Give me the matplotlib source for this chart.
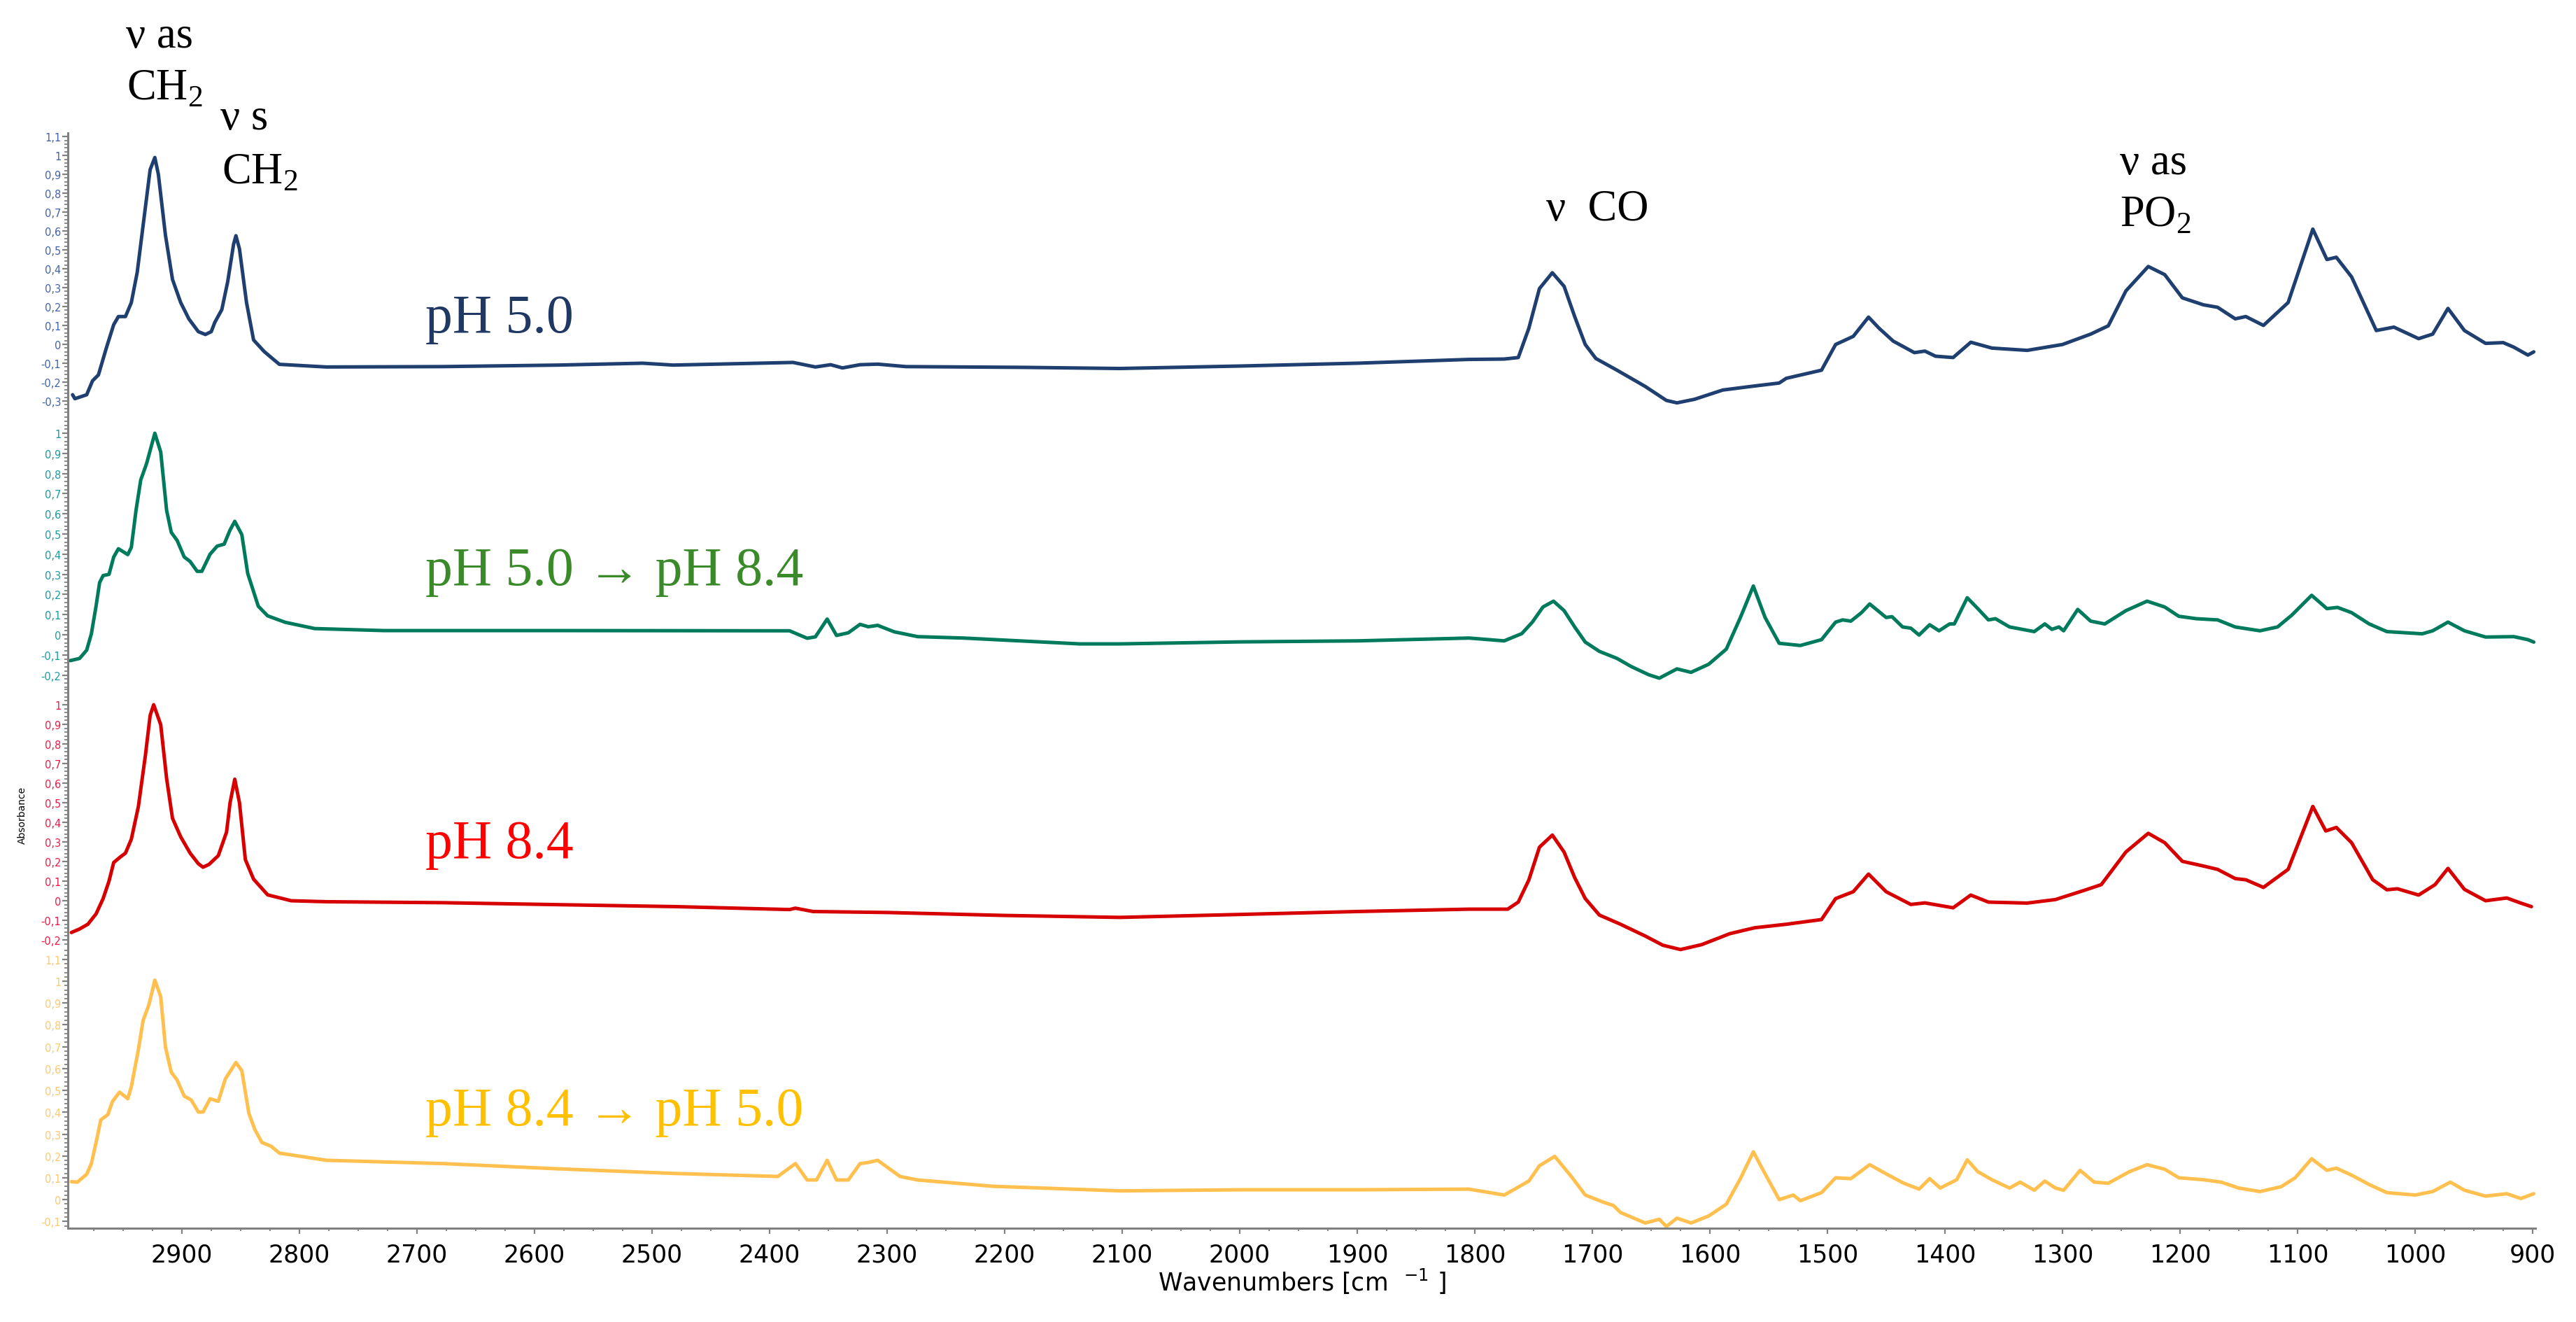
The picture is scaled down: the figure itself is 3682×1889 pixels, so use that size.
import matplotlib
matplotlib.use("Agg")
import matplotlib.pyplot as plt
from matplotlib.ticker import MultipleLocator, FuncFormatter

W_PX, H_PX = 3682, 1890
DPI = 100

# ---- spectra (wavenumber, absorbance) ----
wn_ph50 = [2993, 2991, 2981, 2976, 2971, 2964, 2958, 2954, 2948, 2943, 2938, 2932, 2927,
           2923, 2920, 2914, 2908, 2901, 2894, 2886, 2880, 2875, 2872, 2866, 2861, 2856,
           2854, 2851, 2845, 2839, 2830, 2823, 2817, 2777, 2678, 2580, 2508, 2482, 2380,
           2361, 2348, 2338, 2323, 2308, 2284, 2185, 2102, 2000, 1900, 1805, 1775, 1763,
           1754, 1745, 1734, 1724, 1715, 1706, 1697, 1679, 1655, 1637, 1628, 1613, 1589,
           1565, 1541, 1535, 1505, 1493, 1478, 1465, 1456, 1444, 1426, 1417, 1408, 1393,
           1378, 1360, 1330, 1300, 1276, 1261, 1246, 1227, 1213, 1198, 1180, 1168, 1153,
           1144, 1129, 1108, 1087, 1075, 1067, 1054, 1033, 1018, 997, 985, 972, 958, 940,
           925, 916, 904, 899]
abs_ph50 = [-0.267, -0.288, -0.267, -0.193, -0.162, -0.014, 0.104, 0.147, 0.147, 0.221, 0.381,
            0.678, 0.925, 0.989, 0.9, 0.579, 0.344, 0.221, 0.134, 0.067, 0.052, 0.067, 0.116,
            0.184, 0.332, 0.53, 0.575, 0.505, 0.221, 0.023, -0.038, -0.075, -0.106, -0.12,
            -0.118, -0.11, -0.1, -0.11, -0.096, -0.12, -0.108, -0.125, -0.108, -0.105, -0.118,
            -0.122, -0.128, -0.115, -0.1, -0.08, -0.078, -0.07, 0.085, 0.295, 0.379, 0.307,
            0.147, -0.001, -0.075, -0.137, -0.223, -0.297, -0.31, -0.291, -0.242, -0.223,
            -0.205, -0.18, -0.137, -0.001, 0.042, 0.144, 0.085, 0.017, -0.044, -0.036, -0.063,
            -0.07, 0.011, -0.02, -0.032, -0.001, 0.054, 0.098, 0.283, 0.412, 0.369, 0.246,
            0.209, 0.196, 0.135, 0.147, 0.1, 0.221, 0.61, 0.449, 0.461, 0.357, 0.073, 0.091,
            0.03, 0.054, 0.19, 0.073, 0.005, 0.009, -0.015, -0.057, -0.04]

wn_ph50_84 = [2995, 2987, 2981, 2977, 2973, 2970, 2967, 2962, 2958, 2954, 2946, 2943, 2939,
              2935, 2930, 2923, 2918, 2913, 2909, 2904, 2898, 2893, 2887, 2883, 2876, 2870,
              2864, 2859, 2855, 2849, 2844, 2835, 2827, 2812, 2787, 2728, 2580, 2383, 2368,
              2361, 2351, 2343, 2333, 2323, 2316, 2308, 2294, 2274, 2235, 2136, 2102, 2000,
              1900, 1805, 1775, 1760, 1751, 1742, 1733, 1724, 1715, 1706, 1694, 1679, 1667,
              1652, 1643, 1628, 1616, 1601, 1586, 1574, 1563, 1553, 1541, 1523, 1505, 1493,
              1487, 1480, 1471, 1464, 1450, 1445, 1436, 1429, 1422, 1413, 1405, 1396, 1392,
              1381, 1372, 1363, 1357, 1345, 1324, 1315, 1309, 1303, 1299, 1287, 1276, 1264,
              1246, 1228, 1213, 1201, 1186, 1168, 1153, 1132, 1117, 1105, 1088, 1075, 1066,
              1054, 1039, 1024, 994, 985, 972, 958, 940, 916, 904, 899]
abs_ph50_84 = [-0.128, -0.117, -0.076, 0.005, 0.143, 0.259, 0.294, 0.3, 0.386, 0.427, 0.398,
               0.434, 0.618, 0.768, 0.85, 1.0, 0.907, 0.618, 0.508, 0.468, 0.386, 0.364, 0.315,
               0.315, 0.4, 0.44, 0.45, 0.52, 0.563, 0.497, 0.305, 0.142, 0.094, 0.062, 0.031,
               0.021, 0.021, 0.02, -0.017, -0.01, 0.078, -0.003, 0.01, 0.052, 0.04, 0.047,
               0.015, -0.009, -0.016, -0.045, -0.045, -0.035, -0.03, -0.016, -0.03, 0.006,
               0.063, 0.138, 0.167, 0.12, 0.039, -0.036, -0.082, -0.117, -0.157, -0.198,
               -0.215, -0.169, -0.186, -0.146, -0.071, 0.086, 0.242, 0.086, -0.042, -0.053,
               -0.024, 0.063, 0.074, 0.068, 0.11, 0.153, 0.086, 0.09, 0.039, 0.033, -0.001,
               0.05, 0.02, 0.054, 0.054, 0.184, 0.13, 0.074, 0.08, 0.039, 0.016, 0.054, 0.027,
               0.039, 0.02, 0.126, 0.068, 0.054, 0.12, 0.167, 0.138, 0.092, 0.08, 0.074,
               0.039, 0.02, 0.039, 0.097, 0.196, 0.13, 0.136, 0.11, 0.054, 0.016, 0.005, 0.02,
               0.063, 0.02, -0.011, -0.009, -0.024, -0.036]

wn_ph84 = [2994, 2987, 2980, 2973, 2967, 2962, 2958, 2952, 2948, 2943, 2937, 2931, 2927,
           2924, 2918, 2913, 2908, 2901, 2893, 2886, 2882, 2877, 2869, 2862, 2859, 2855,
           2851, 2846, 2839, 2827, 2807, 2777, 2678, 2580, 2480, 2383, 2378, 2363, 2300,
           2200, 2102, 2000, 1900, 1805, 1772, 1763, 1754, 1745, 1734, 1724, 1715, 1706,
           1694, 1676, 1655, 1640, 1625, 1607, 1583, 1562, 1535, 1505, 1493, 1478, 1465,
           1450, 1429, 1417, 1393, 1378, 1363, 1330, 1306, 1282, 1267, 1246, 1227, 1213,
           1198, 1180, 1168, 1153, 1144, 1129, 1108, 1087, 1076, 1067, 1054, 1036, 1024,
           1015, 997, 983, 972, 958, 940, 922, 910, 901]
abs_ph84 = [-0.162, -0.144, -0.12, -0.067, 0.011, 0.1, 0.195, 0.225, 0.243, 0.314, 0.481,
            0.743, 0.945, 1.0, 0.898, 0.624, 0.421, 0.326, 0.243, 0.189, 0.171, 0.185, 0.23,
            0.35, 0.5, 0.62, 0.5, 0.21, 0.11, 0.03, 0.0, -0.005, -0.01, -0.02, -0.03, -0.045,
            -0.038, -0.055, -0.06, -0.075, -0.085, -0.07, -0.055, -0.043, -0.043, -0.007,
            0.106, 0.273, 0.335, 0.248, 0.118, 0.011, -0.073, -0.12, -0.18, -0.227, -0.249,
            -0.224, -0.168, -0.138, -0.12, -0.096, 0.011, 0.046, 0.136, 0.046, -0.019,
            -0.011, -0.036, 0.029, -0.007, -0.012, 0.006, 0.052, 0.082, 0.249, 0.344, 0.296,
            0.201, 0.177, 0.16, 0.113, 0.107, 0.068, 0.16, 0.481, 0.356, 0.374, 0.296, 0.107,
            0.056, 0.061, 0.029, 0.082, 0.165, 0.058, 0.0, 0.014, -0.012, -0.03]

wn_ph84_50 = [2994, 2989, 2981, 2977, 2973, 2969, 2963, 2959, 2953, 2946, 2943, 2937, 2933,
              2928, 2923, 2918, 2914, 2909, 2904, 2898, 2892, 2886, 2882, 2876, 2869, 2863,
              2854, 2849, 2843, 2838, 2832, 2824, 2817, 2777, 2678, 2580, 2482, 2393, 2378,
              2368, 2360, 2351, 2343, 2333, 2323, 2316, 2308, 2289, 2274, 2210, 2102, 2000,
              1900, 1805, 1775, 1766, 1754, 1745, 1732, 1718, 1706, 1691, 1682, 1676, 1655,
              1643, 1637, 1628, 1616, 1601, 1586, 1574, 1563, 1554, 1541, 1529, 1523, 1505,
              1493, 1480, 1464, 1450, 1435, 1422, 1413, 1404, 1390, 1381, 1372, 1360, 1345,
              1336, 1324, 1315, 1306, 1299, 1285, 1273, 1261, 1243, 1228, 1213, 1201, 1180,
              1165, 1150, 1132, 1114, 1102, 1088, 1075, 1067, 1054, 1039, 1024, 1000, 985,
              970, 958, 940, 922, 910, 899]
abs_ph84_50 = [0.082, 0.08, 0.116, 0.165, 0.262, 0.365, 0.389, 0.45, 0.492, 0.462, 0.517,
               0.687, 0.82, 0.893, 1.005, 0.929, 0.699, 0.583, 0.547, 0.474, 0.456, 0.401,
               0.401, 0.462, 0.45, 0.553, 0.628, 0.59, 0.395, 0.322, 0.262, 0.244, 0.213,
               0.18, 0.165, 0.141, 0.12, 0.106, 0.165, 0.09, 0.09, 0.18, 0.09, 0.09, 0.165,
               0.17, 0.18, 0.106, 0.09, 0.061, 0.04, 0.045, 0.045, 0.048, 0.021, 0.048, 0.085,
               0.155, 0.198, 0.107, 0.021, -0.011, -0.027, -0.059, -0.107, -0.09, -0.123,
               -0.085, -0.107, -0.075, -0.021, 0.096, 0.219, 0.128, 0.0, 0.021, -0.005, 0.032,
               0.1, 0.096, 0.16, 0.118, 0.075, 0.048, 0.096, 0.053, 0.091, 0.182, 0.128,
               0.091, 0.053, 0.08, 0.043, 0.085, 0.053, 0.043, 0.134, 0.08, 0.075, 0.128,
               0.16, 0.139, 0.1, 0.091, 0.08, 0.053, 0.037, 0.059, 0.1, 0.187, 0.134, 0.144,
               0.112, 0.069, 0.032, 0.021, 0.037, 0.08, 0.043, 0.016, 0.027, 0.005, 0.027]

series_labels = ["pH 5.0", "pH 5.0 \u2192 pH 8.4", "pH 8.4", "pH 8.4 \u2192 pH 5.0"]
line_colors = ["#1f3f70", "#007a5c", "#d60000", "#ffc050"]
label_colors = ["#1f3864", "#3a8a2a", "#ff0000", "#ffc000"]
tick_colors = ["#4262b0", "#1a9ca4", "#f21a44", "#ffc870"]

# panel layout in pixels (top, bottom) and y-limits of each panel
panel_px = [(191, 595), (595, 985), (985, 1355), (1355, 1756)]
panel_ylim = [(-0.378, 1.119), (-0.267, 1.087), (-0.239, 1.082), (-0.131, 1.154)]
X_LEFT, X_RIGHT = 97, 3624


def px(x, y):
    return x / W_PX, 1 - y / H_PX


def comma_fmt(v, pos):
    v = round(v, 2)
    if abs(v) < 1e-9:
        return "0"
    s = ("%.1f" % v).rstrip("0").rstrip(".")
    return s.replace(".", ",")


fig = plt.figure(figsize=(W_PX / DPI, H_PX / DPI), dpi=DPI)
data = [(wn_ph50, abs_ph50), (wn_ph50_84, abs_ph50_84), (wn_ph84, abs_ph84), (wn_ph84_50, abs_ph84_50)]
axes = []
for i, ((top, bot), ylim) in enumerate(zip(panel_px, panel_ylim)):
    l, b = px(X_LEFT, bot)
    w = (X_RIGHT - X_LEFT) / W_PX
    h = (bot - top) / H_PX
    ax = fig.add_axes([l, b, w, h])
    ax.patch.set_alpha(0)
    last = i == 3
    wn, ab = data[i]
    ax.plot(wn, ab, color=line_colors[i], linewidth=3.6, clip_on=False,
            solid_joinstyle="round", solid_capstyle="round")
    ax.set_xlim(2997, 897.6)
    ax.set_ylim(*ylim)
    for s in ["top", "right"]:
        ax.spines[s].set_visible(False)
    ax.spines["left"].set_color("#808080")
    ax.spines["left"].set_linewidth(2.2)
    ax.spines["bottom"].set_visible(last)
    ax.spines["bottom"].set_color("#808080")
    ax.spines["bottom"].set_linewidth(2.2)
    ax.yaxis.set_major_locator(MultipleLocator(0.1))
    ax.yaxis.set_minor_locator(MultipleLocator(0.02))
    ax.yaxis.set_major_formatter(FuncFormatter(comma_fmt))
    ax.tick_params(axis="y", which="major", length=6, width=1.6, color="#808080",
                   labelsize=10.5, labelcolor=tick_colors[i], pad=1)
    ax.tick_params(axis="y", which="minor", length=3.5, width=1.3, color="#808080")
    if last:
        ax.xaxis.set_major_locator(MultipleLocator(100))
        ax.xaxis.set_minor_locator(MultipleLocator(25))
        ax.tick_params(axis="x", which="major", length=6, width=1.6, color="#808080",
                       labelsize=25, pad=9)
        ax.tick_params(axis="x", which="minor", length=3, width=1.3, color="#808080")
        ax.set_xlabel("Wavenumbers [cm  $^{-1}$ ]", fontsize=25, labelpad=0)
    else:
        ax.tick_params(axis="x", which="both", bottom=False, labelbottom=False)
    axes.append(ax)

fig.text(*px(32, 1165), "Absorbance", rotation=90, fontsize=10, ha="center", va="center")

serif = ["Liberation Serif", "DejaVu Serif"]
label_pos = [(608, 475), (608, 836), (608, 1226), (608, 1608)]
for text, color, (x, y) in zip(series_labels, label_colors, label_pos):
    fig.text(*px(x, y), text, color=color, fontsize=56, family=serif, va="baseline")

band_notes = [
    ("\u03bd as", 180, 68),
    ("CH$_\\mathregular{2}$", 181, 143),
    ("\u03bd s", 315, 185),
    ("CH$_\\mathregular{2}$", 317, 263),
    ("\u03bd  CO", 2210, 315),
    ("\u03bd as", 3030, 249),
    ("PO$_\\mathregular{2}$", 3030, 324),
]
for text, x, y in band_notes:
    fig.text(*px(x, y), text, color="black", fontsize=45, family=serif, va="baseline")

fig.savefig("out.png", dpi=DPI)
